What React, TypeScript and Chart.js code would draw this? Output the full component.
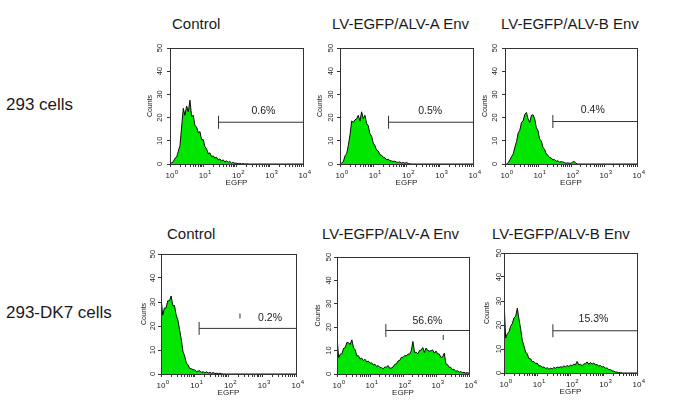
import React, { useEffect, useRef } from "react";
import { Chart, registerables } from "chart.js";

Chart.register(...registerables);

// ---- data ----
// fluorescence channels, in decades of EGFP (10^0 .. 10^4)
const CHANNELS = [
  0, 0.05, 0.1, 0.15, 0.2, 0.25, 0.3, 0.35, 0.4, 0.45,
  0.5, 0.55, 0.6, 0.65, 0.7, 0.75, 0.8, 0.85, 0.9, 0.95,
  1, 1.05, 1.1, 1.15, 1.2, 1.25, 1.3, 1.35, 1.4, 1.45,
  1.5, 1.55, 1.6, 1.65, 1.7, 1.75, 1.8, 1.85, 1.9, 1.95,
  2, 2.05, 2.1, 2.15, 2.2, 2.25, 2.3, 2.35, 2.4, 2.45,
  2.5, 2.55, 2.6, 2.65, 2.7, 2.75, 2.8, 2.85, 2.9, 2.95,
  3, 3.05, 3.1, 3.15, 3.2, 3.25, 3.3, 3.35, 3.4, 3.45,
  3.5, 3.55, 3.6, 3.65, 3.7, 3.75, 3.8, 3.85, 3.9, 3.95,
  4,
];

const CONTROL_293 = [
  0, 0.5, 1, 2.5, 3, 5.5, 8, 16, 24, 21,
  25, 22.5, 27.5, 20.5, 21, 16.5, 16, 13.5, 14, 10.5,
  10.5, 7.5, 6.5, 4.5, 4.8, 3.2, 3.5, 2.6, 2.9, 1.8,
  2.2, 1.3, 1.8, 0.9, 1.4, 0.7, 1.1, 0.4, 0.7, 0.3,
  0.4, 0.1, 0.3, 0, 0.2, 0, 0.1, 0, 0, 0,
  0, 0, 0, 0, 0, 0, 0, 0, 0, 0,
  0, 0, 0, 0, 0, 0, 0, 0, 0, 0,
  0, 0, 0, 0, 0, 0, 0, 0, 0, 0,
  0,
];

const ALVA_293 = [
  0, 0.4, 1, 3.5, 4.5, 8, 12.5, 18.5, 18, 19,
  19.5, 21, 18.5, 22.5, 19.5, 21, 17.5, 16.5, 13, 12,
  9, 8, 6, 5.6, 4, 3.8, 2.9, 2.7, 1.8, 2,
  1.5, 1.3, 1.1, 1.2, 0.8, 0.7, 0.9, 0.4, 0.7, 0.3,
  0.7, 0.2, 0.1, 0, 0, 0, 0, 0, 0, 0,
  0, 0, 0, 0, 0, 0, 0, 0, 0, 0,
  0, 0, 0, 0, 0, 0, 0, 0, 0, 0,
  0, 0, 0, 0, 0, 0, 0, 0, 0, 0,
  0,
];

const ALVB_293 = [
  0, 0, 0.6, 1.8, 3.2, 4.4, 7.3, 9.7, 13.4, 14.6,
  18, 18.6, 21.4, 22.2, 19.4, 18, 21, 21.2, 19.5, 15.6,
  14.4, 10.6, 10, 7.2, 6.3, 4.3, 3.8, 2.8, 2.6, 1.8,
  1.9, 1.2, 1.4, 0.8, 1, 0.9, 0.6, 0.3, 0.5, 0.3,
  0.3, 0.8, 1.1, 0.3, 0, 0, 0, 0, 0, 0,
  0, 0, 0, 0, 0, 0, 0, 0, 0, 0,
  0, 0, 0, 0, 0, 0, 0, 0, 0, 0,
  0, 0, 0, 0, 0, 0, 0, 0, 0, 0,
  0,
];

const CONTROL_DK7 = [
  32, 24.5, 27.5, 27.5, 30.5, 30.5, 32.5, 28.5, 28.5, 24.5,
  22.5, 18.5, 14.5, 9.5, 7.5, 4.6, 3.8, 2.3, 2.2, 1.8,
  1.7, 1, 1.2, 1.4, 0.7, 0.9, 0.5, 0.9, 0.4, 0.7,
  0.3, 0.6, 0.2, 0.3, 0.2, 0.3, 0.1, 0, 0, 0,
  0, 0, 0, 0, 0, 0, 0, 0, 0, 0,
  0, 0, 0, 0, 0, 0, 0, 0, 0, 0,
  0, 0, 0, 0, 0, 0, 0, 0, 0, 0,
  0, 0, 0, 0, 0, 0, 0, 0, 0, 0,
  0,
];

const ALVA_DK7 = [
  16, 7, 8.5, 8.7, 11, 11.3, 13.5, 13.4, 12.6, 14.6,
  11.2, 10.3, 7.8, 7.8, 6.4, 6.8, 5.7, 6.3, 5.2, 5.5,
  4.6, 4.8, 3.9, 4.2, 3.2, 3.6, 2.8, 2.7, 2.2, 3,
  3, 3.6, 2.4, 2.6, 3, 4.1, 4.3, 5.6, 5.8, 7.1,
  7.1, 7.9, 7.7, 8.5, 8.5, 9.9, 13.9, 9.2, 9.3, 8.6,
  10.1, 10.2, 11.3, 9.2, 11.1, 10, 9.8, 9.9, 10.3, 8.9,
  9.8, 8.6, 8.5, 7.1, 7.3, 8.9, 4.4, 4, 2.9, 2.8,
  1.9, 1.9, 1.2, 1.4, 0.8, 1, 0.6, 0.7, 0.4, 0.6,
  0.3,
];

const ALVB_DK7 = [
  30.5, 14.6, 16.4, 17.2, 19.5, 20.6, 23, 23.6, 27, 22.5,
  18.4, 13.6, 11.3, 8.7, 7.9, 6, 5.9, 4.7, 4.8, 3.9,
  4.1, 3, 3, 2.4, 2.5, 1.9, 2.2, 1.6, 2, 1.7,
  2.3, 2, 2.5, 2.3, 2.6, 2.4, 3, 2.5, 3.2, 2.7,
  3.3, 3.1, 3.7, 3.4, 4.8, 3.4, 3.6, 3.1, 3.7, 4,
  4.6, 3.6, 4.4, 3.7, 4.2, 3.4, 3.5, 2.9, 3.1, 2.5,
  2.7, 2, 2.1, 1.5, 1.4, 0.9, 0.8, 0.4, 0.4, 0.1,
  0.2, 0, 0, 0, 0, 0, 0, 0, 0, 0,
  0,
];

const SERIES = [CONTROL_293, ALVA_293, ALVB_293, CONTROL_DK7, ALVA_DK7, ALVB_DK7];
const TITLES = [
  "Control", "LV-EGFP/ALV-A Env", "LV-EGFP/ALV-B Env",
  "Control", "LV-EGFP/ALV-A Env", "LV-EGFP/ALV-B Env",
];
const ROW_LABELS = ["293 cells", "293-DK7 cells"];
const GATE_START = [1.46, 1.46, 1.45, 1.13, 1.48, 1.47];
const GATE_LEVEL = [18, 18, 18.3, 19, 18.6, 17.6];
const GATE_LABELS = ["0.6%", "0.5%", "0.4%", "0.2%", "56.6%", "15.3%"];
// small cursor marks [panel, decade, count]
const MARKERS: [number, number, number][] = [[3, 2.34, 24.2], [4, 3.22, 15.6]];
const Y_TICKS = [0, 10, 20, 30, 40, 50];
const X_EXPONENTS = ["0", "1", "2", "3", "4"];
const X_BASE = "10";
const Y_TITLE = "Counts";
const X_TITLE = "EGFP";

// ---- layout / style ----
const FONT = '"Liberation Sans", Arial, Helvetica, sans-serif';
const GREEN = "#00e600";
const AXIS = "#333333";
const TEXT = "#1a1a1a";
const LEFT_SPACE = 36;
const TOP_PAD = 10;
const RIGHT_PAD = 14;
const BOTTOM_SPACE = 30;

const LAYOUT = [
  { L: 170, T: 48, R: 303, B: 164, tx: 172, ty: 15, yLab: 10, yTit: 19.5, pct: [2.81, 23] },
  { L: 340, T: 48, R: 473, B: 164, tx: 332, ty: 15, yLab: 9, yTit: 20, pct: [2.71, 23] },
  { L: 505, T: 48, R: 637, B: 164, tx: 501, ty: 15, yLab: 10, yTit: 20, pct: [2.66, 23.3] },
  { L: 161, T: 254, R: 296, B: 374, tx: 167, ty: 225, yLab: 8, yTit: 17, pct: [3.23, 23.3] },
  { L: 337, T: 257, R: 469, B: 374, tx: 322, ty: 225, yLab: 8, yTit: 19, pct: [2.74, 22.7] },
  { L: 504, T: 253, R: 637, B: 373, tx: 492, ty: 225, yLab: 5.5, yTit: 17, pct: [2.69, 22.6] },
];

function Panel({ i }: { i: number }) {
  const ref = useRef<HTMLCanvasElement>(null);
  const lay = LAYOUT[i];
  const W = lay.R - lay.L + LEFT_SPACE + RIGHT_PAD;
  const H = lay.B - lay.T + TOP_PAD + BOTTOM_SPACE;

  useEffect(() => {
    const canvas = ref.current;
    if (!canvas) return;

    const decor = {
      id: "fcsDecor",
      afterDraw(chart: any) {
        const { ctx, chartArea: a } = chart;
        const x = chart.scales.x;
        const y = chart.scales.y;
        ctx.save();
        // frame
        ctx.strokeStyle = AXIS;
        ctx.lineWidth = 1;
        ctx.strokeRect(Math.round(a.left) + 0.5, Math.round(a.top) + 0.5,
          Math.round(a.right) - Math.round(a.left), Math.round(a.bottom) - Math.round(a.top));
        ctx.fillStyle = TEXT;
        // rotated y tick labels
        ctx.font = `7.5px ${FONT}`;
        ctx.textAlign = "center";
        ctx.textBaseline = "middle";
        for (const v of Y_TICKS) {
          const py = y.getPixelForValue(v);
          ctx.save();
          ctx.translate(a.left - lay.yLab, py);
          ctx.rotate(-Math.PI / 2);
          ctx.fillText(String(v), 0, 0);
          ctx.restore();
        }
        // x tick labels 10^k
        X_EXPONENTS.forEach((e, k) => {
          const px = x.getPixelForValue(k);
          ctx.font = `8px ${FONT}`;
          ctx.textAlign = "center";
          ctx.textBaseline = "alphabetic";
          const w = ctx.measureText(X_BASE).width;
          ctx.fillText(X_BASE, px, a.bottom + 14);
          ctx.font = `6px ${FONT}`;
          ctx.textAlign = "left";
          ctx.fillText(e, px + w / 2 + 0.3, a.bottom + 10);
        });
        // gate percentage
        ctx.font = `10.5px ${FONT}`;
        ctx.textAlign = "center";
        ctx.textBaseline = "middle";
        ctx.fillText(GATE_LABELS[i], x.getPixelForValue(lay.pct[0]), y.getPixelForValue(lay.pct[1]));
        ctx.restore();
      },
    };

    const datasets: any[] = [
      {
        data: SERIES[i],
        fill: "origin",
        backgroundColor: GREEN,
        borderColor: "#0a0a0a",
        borderWidth: 1,
        pointRadius: 0,
        tension: 0,
        order: 3,
      },
      {
        data: [{ x: GATE_START[i], y: GATE_LEVEL[i] }, { x: 4, y: GATE_LEVEL[i] }],
        fill: false,
        borderColor: AXIS,
        borderWidth: 1,
        pointStyle: "line",
        pointRotation: 90,
        pointRadius: [6.5, 0],
        pointBorderColor: AXIS,
        pointBorderWidth: 1,
        order: 1,
      },
    ];
    const marks = MARKERS.filter((m) => m[0] === i);
    if (marks.length) {
      datasets.push({
        data: marks.map((m) => ({ x: m[1], y: m[2] })),
        showLine: false,
        pointStyle: "line",
        pointRotation: 90,
        pointRadius: 2.5,
        pointBorderColor: AXIS,
        pointBorderWidth: 1,
        order: 2,
      });
    }

    const minorTicks: { value: number; major: boolean }[] = [];
    for (let k = 0; k < 4; k++) {
      for (let m = 1; m <= 9; m++) minorTicks.push({ value: k + Math.log10(m), major: m === 1 });
    }
    minorTicks.push({ value: 4, major: true });

    const chart = new Chart(canvas, {
      type: "line",
      data: { labels: CHANNELS, datasets },
      options: {
        animation: false,
        responsive: false,
        events: [],
        layout: { padding: { left: 0, top: TOP_PAD, right: RIGHT_PAD, bottom: 0 } },
        plugins: { legend: { display: false }, tooltip: { enabled: false } },
        scales: {
          x: {
            type: "linear",
            min: 0,
            max: 4,
            afterBuildTicks: (s: any) => { s.ticks = minorTicks.map((t) => ({ ...t })); },
            afterFit: (s: any) => {
              s.height = BOTTOM_SPACE;
              s.paddingLeft = 0; s.paddingRight = 0; s.paddingTop = 0; s.paddingBottom = 0;
            },
            ticks: { display: false },
            grid: { display: true, drawOnChartArea: false, drawTicks: true, tickLength: 3, color: AXIS, tickColor: AXIS, lineWidth: 1 },
            border: { display: true, color: AXIS, width: 1 },
            title: {
              display: true, text: X_TITLE, color: TEXT,
              font: { size: 8, family: FONT },
              padding: { top: 0, bottom: BOTTOM_SPACE - 18.7 - 4.8 },
            },
          },
          y: {
            type: "linear",
            min: 0,
            max: 50,
            afterBuildTicks: (s: any) => { s.ticks = Y_TICKS.map((v) => ({ value: v })); },
            afterFit: (s: any) => {
              s.width = LEFT_SPACE;
              s.paddingLeft = 0; s.paddingRight = 0; s.paddingTop = 0; s.paddingBottom = 0;
            },
            ticks: { display: false },
            grid: { display: true, drawOnChartArea: false, drawTicks: true, tickLength: 3, color: AXIS, tickColor: AXIS, lineWidth: 1 },
            border: { display: true, color: AXIS, width: 1 },
            title: {
              display: true, text: Y_TITLE, color: TEXT,
              font: { size: 7, family: FONT },
              padding: { top: LEFT_SPACE - lay.yTit - 4.2, bottom: 0 },
            },
          },
        },
      },
      plugins: [decor],
    } as any);
    return () => chart.destroy();
  }, []);

  return (
    <canvas
      ref={ref}
      width={W}
      height={H}
      style={{ position: "absolute", left: lay.L - LEFT_SPACE, top: lay.T - TOP_PAD, width: W, height: H }}
    />
  );
}

export default function App() {
  return (
    <div
      style={{
        position: "absolute", left: 0, top: 0, width: 685, height: 409,
        background: "#ffffff", fontFamily: FONT, color: TEXT, overflow: "hidden",
      }}
    >
      <div style={{ position: "absolute", left: 6, top: 94.7, fontSize: 17, lineHeight: "20px", whiteSpace: "nowrap" }}>
        {ROW_LABELS[0]}
      </div>
      <div style={{ position: "absolute", left: 6, top: 303.2, fontSize: 17, lineHeight: "20px", whiteSpace: "nowrap" }}>
        {ROW_LABELS[1]}
      </div>
      {LAYOUT.map((lay, i) => (
        <div
          key={"t" + i}
          style={{ position: "absolute", left: lay.tx, top: lay.ty, fontSize: 15, lineHeight: "17px", whiteSpace: "nowrap" }}
        >
          {TITLES[i]}
        </div>
      ))}
      {LAYOUT.map((_, i) => (
        <Panel key={"p" + i} i={i} />
      ))}
    </div>
  );
}
